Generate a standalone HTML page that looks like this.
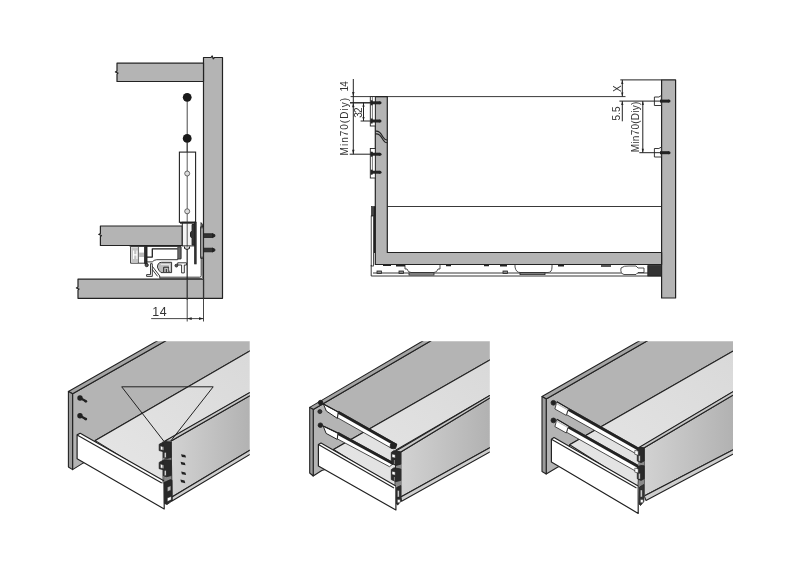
<!DOCTYPE html>
<html><head><meta charset="utf-8">
<style>
html,body{margin:0;padding:0;background:#fff;}
body{width:799px;height:578px;overflow:hidden;font-family:"Liberation Sans",sans-serif;}
svg{display:block;will-change:transform;}
text{font-family:"Liberation Sans",sans-serif;fill:#333;}
</style></head><body>
<svg width="799" height="578" viewBox="0 0 799 578">
<rect width="799" height="578" fill="#fff"/>
<defs>
<clipPath id="c1"><rect x="0" y="341.2" width="249.7" height="240"/></clipPath>
<clipPath id="c2"><rect x="280" y="341.2" width="209.8" height="240"/></clipPath>
<clipPath id="c3"><rect x="520" y="341.2" width="213" height="240"/></clipPath>
<linearGradient id="gside" x1="0" y1="0" x2="1" y2="0"><stop offset="0" stop-color="#d2d2d2"/><stop offset="1" stop-color="#adadad"/></linearGradient>
<linearGradient id="gbot" x1="0" y1="1" x2="1" y2="0"><stop offset="0" stop-color="#e6e6e6"/><stop offset="1" stop-color="#d8d8d8"/></linearGradient>
</defs>

<!-- ============ TOP LEFT SECTION ============ -->
<g id="tl" stroke="#222" stroke-width="1.2" stroke-linejoin="round">
<!-- side panel -->
<path d="M203.5 57.5 H211 l1.2 -1.6 l1 3 l1.2 -1.4 H222.5 V298.3 H203.5 Z" fill="#b4b4b4"/>
<!-- floor -->
<path d="M203.5 279.1 H78 V287 l-1.6 1 l2.6 1 l-1 1.2 V298.3 H203.5 Z" fill="#b4b4b4"/>
<!-- top shelf -->
<path d="M203.5 63.2 H117 V71 l-1.6 1 l2.6 1 l-1 1.2 V81.5 H203.5 Z" fill="#b4b4b4"/>
<!-- drawer bottom board -->
<path d="M182.3 226 H100.4 V233.5 l-1.6 1 l2.6 1 l-1 1.2 V245.5 H182.3 Z" fill="#b4b4b4"/>
</g>
<!-- centre line & dimension -->
<g stroke="#333" stroke-width="0.9" fill="none">
<line x1="187.2" y1="97" x2="187.2" y2="321.5"/>
<line x1="203.5" y1="279" x2="203.5" y2="321.5"/>
<line x1="151.2" y1="318.6" x2="203.5" y2="318.6"/>
</g>
<path d="M187.2 318.6 l4.5 -1.3 v2.6 Z M203.5 318.6 l-4.5 -1.3 v2.6 Z" fill="#222"/>
<text x="152.3" y="316.4" font-size="12.4" textLength="14.4" lengthAdjust="spacing">14</text>
<!-- balls -->
<circle cx="187.2" cy="97.3" r="4.4" fill="#1a1a1a"/>
<circle cx="187.2" cy="138.4" r="4.4" fill="#1a1a1a"/>
<!-- drawer side rect -->
<rect x="179.4" y="152.1" width="16.2" height="70.2" fill="#fff" stroke="#222" stroke-width="1.1"/>
<line x1="187.2" y1="142" x2="187.2" y2="300" stroke="#333" stroke-width="0.8"/>
<circle cx="187.2" cy="173.5" r="2.5" fill="#ddd" stroke="#333" stroke-width="0.7"/>
<circle cx="187.2" cy="211.3" r="2.5" fill="#ddd" stroke="#333" stroke-width="0.7"/>
<!-- block under side -->
<g stroke="#222" stroke-width="1" fill="#fff">
<rect x="182.3" y="222.3" width="12.4" height="23.6" fill="#f4f4f4"/>
<line x1="180" y1="222.8" x2="195.6" y2="222.8" stroke-width="1.8"/>
<line x1="187.2" y1="222" x2="187.2" y2="246" stroke="#333" stroke-width="0.8"/>
<path d="M194.7 224.5 h-2.6 v6 l-1.6 2 v4 l1.6 2 v6.5 h2.6 Z" fill="#333"/>
<rect x="194.7" y="222.3" width="1.4" height="41.5" fill="#444"/>
<path d="M184.5 246.5 v2 q2.5 2 5 0 v-2" fill="#ccc"/>
</g>
<!-- bracket plate + screws -->
<g stroke="#222" stroke-width="0.9">
<path d="M201 222.6 L202.6 224.5 V258 L201 258.3 Z" fill="#888"/>
<rect x="200.7" y="227" width="2.6" height="31" fill="#8c8c8c"/>
<path d="M202 229 V256" stroke="#ddd" stroke-width="0.6" fill="none"/>
<rect x="203.5" y="233.8" width="9" height="3.6" fill="#333"/>
<rect x="203.5" y="248.2" width="9" height="3.6" fill="#333"/>
<path d="M212.5 233.6 l2.4 1.2 v1.6 l-2.4 1.2 Z M212.5 248 l2.4 1.2 v1.6 l-2.4 1.2 Z" fill="#222"/>
<path d="M201.2 258 V275.7 q0 1.5 -1.5 1.5 H159.7" fill="none"/>
<path d="M202.6 258 V277 q0 1.5 -1.5 1.5 H159.7 V277.2" fill="none" stroke-width="0.6"/>
</g>
<!-- mechanism under board -->
<g stroke="#222" stroke-width="0.9" fill="#fff" stroke-linejoin="round">
<line x1="129.5" y1="245.8" x2="181" y2="245.8" stroke-width="1.6"/>
<rect x="130.6" y="246.4" width="14.2" height="16.8" fill="#fff"/>
<rect x="131.4" y="247.4" width="6.4" height="14.6" fill="#c4c4c4" stroke="none"/>
<path d="M133.6 250.6 v8.4 M137 250.6 v8.4 M133.6 254.8 h3.4" fill="none" stroke="#fff" stroke-width="1.2"/>
<rect x="139.2" y="252.6" width="5" height="4.4" fill="#bbb" stroke="none"/>
<line x1="138.4" y1="247" x2="138.4" y2="263" stroke-width="0.7"/>
<rect x="144.8" y="246.4" width="2.2" height="17.6" fill="#333"/>
<path d="M147 246.4 H181 V258.8 H177.7 V259.7 H156.7 Q153.8 259.9 152.3 261.9 H147 Z" fill="#fff"/>
<path d="M147 257.1 H152.3 V248.8 H177.7" fill="none" stroke-width="1.3"/>
<rect x="177.7" y="247.2" width="3.1" height="11.6" fill="#666" stroke-width="0.6"/>
<circle cx="146.7" cy="265.1" r="1.6" fill="#555"/>
<circle cx="176.4" cy="265.6" r="1.4" fill="#555"/>
<path d="M146.6 276.4 V274.6 H150.5 V263.7 H152.3 V276.4 Z" fill="#fff"/>
<path d="M152.3 266.3 L159.7 275.9 V277.4 M152.3 269.5 L157.6 276.4" fill="none"/>
<path d="M157.4 267.2 Q157.6 262.3 161.6 262.3 H171.6 V272.6 H161 Q158.4 270.5 157.4 267.2 Z" fill="#bdbdbd"/>
<path d="M163.7 272 V267.2 H168.9 V272 M166.3 269 V272" fill="none" stroke-width="1"/>
<path d="M160.8 264.6 H169.6 V270.6" fill="none" stroke="#eee" stroke-width="0.9"/>
<path d="M177.7 262.8 H186.5 V265 H184.3 V272.9 H181.6 V265 H177.7 Z" fill="#fff"/>
</g>

<!-- ============ TOP RIGHT SECTION ============ -->
<g stroke="#222" stroke-width="1.2" stroke-linejoin="round">
<!-- back panel -->
<rect x="661.6" y="79.9" width="14" height="218.1" fill="#b4b4b4"/>
<!-- front panel upper -->
<path d="M375.3 96.6 H387.3 V252.5 H661.6 V264.5 H375.3 Z" fill="#b4b4b4"/>
<path d="M375.3 131.2 c4.5 -1 6 3 7.5 5.5 c1.5 2.5 3 3.3 4.5 3.3 M375.3 134 c4.5 -1 6 3 7.5 5.5 c1.5 2.5 3 3.3 4.5 3.3" fill="none" stroke-width="1.1"/>
</g>
<g stroke="#222" stroke-width="0.9" fill="none">
<line x1="350.6" y1="96.6" x2="625.5" y2="96.6"/>
<path d="M387.3 206.5 H661.6"/>
<!-- left small piece -->
<rect x="371.4" y="206.5" width="3.9" height="9.5" fill="#444" stroke-width="0.6"/>
<rect x="371.2" y="216" width="2.3" height="50" fill="#fff" stroke-width="0.8"/>
<line x1="374.7" y1="206.5" x2="374.7" y2="253" stroke-width="1.5"/>
<!-- runner -->
<path d="M371.2 265 V276 H661.6" />
<line x1="373" y1="273" x2="648" y2="273"/>
</g>
<!-- runner details -->
<g stroke="#222" stroke-width="0.8" fill="#fff">
<path d="M405 265 v4 h2 q1 3.5 4 3.5 h23 q3 0 4 -3.5 h2 v-4" fill="#fff"/>
<rect x="409" y="273" width="25" height="2" fill="#bbb"/>
<path d="M515 265 v2 q1 5.5 5 5.5 h28 q4 0 4 -5.5 v-2" fill="#fff"/>
<rect x="520" y="273" width="25" height="1.6" fill="#bbb"/>
<rect x="377" y="271" width="4.5" height="2.4" fill="#888"/>
<rect x="399" y="271" width="4.5" height="2.4" fill="#888"/>
<rect x="503" y="271" width="4.5" height="2.4" fill="#888"/>
<path d="M383 265.3 h8 M396 265.6 h9 M446 265.5 h5 M484 265.5 h5 M500 265.8 h7 M558 265.6 h6 M601 266 h10" stroke-width="1.6"/>
<path d="M621 268 q3 -2.5 8 -2 h7 l2 2 h6 v4.5 h-6 l-2 2 h-12 q-4 -1 -3 -6.5 Z" fill="#fff"/>
<rect x="647.8" y="265.6" width="13.6" height="10.4" fill="#333"/>
</g>
<!-- left brackets + screws -->
<g stroke="#222" stroke-width="0.9">
<rect x="370.3" y="96.6" width="5" height="29.4" fill="#fff"/>
<rect x="370.3" y="148.5" width="5" height="29.5" fill="#fff"/>
<path d="M372.4 96.6 V122 M372.4 152 V174" fill="none" stroke-width="0.6"/>
</g>
<g fill="#222">
<rect x="371" y="101.3" width="9" height="3"/><rect x="371" y="119.5" width="9" height="3"/>
<rect x="371" y="152.7" width="9" height="3"/><rect x="371" y="170.7" width="9" height="3"/>
<circle cx="380" cy="102.8" r="1.5"/><circle cx="380" cy="121" r="1.5"/><circle cx="380" cy="154.2" r="1.5"/><circle cx="380" cy="172.2" r="1.5"/>
<rect x="370.6" y="100.3" width="2" height="5"/><rect x="370.6" y="118.5" width="2" height="5"/>
<rect x="370.6" y="151.7" width="2" height="5"/><rect x="370.6" y="169.7" width="2" height="5"/>
</g>
<!-- left dims -->
<g stroke="#222" stroke-width="1" fill="none">
<line x1="353.3" y1="79" x2="353.3" y2="96.6"/>
<line x1="353.3" y1="96" x2="353.3" y2="154.2"/>
<line x1="350" y1="102.8" x2="372" y2="102.8" stroke-width="1.4"/>
<line x1="349.7" y1="154.2" x2="371.6" y2="154.2"/>
<line x1="363.5" y1="102.8" x2="363.5" y2="121"/>
<line x1="360.6" y1="121" x2="372" y2="121"/>
</g>
<path d="M353.3 96.6 l-1.2 -4.5 h2.4 Z M353.3 102.8 l-1.2 4.5 h2.4 Z M353.3 154.2 l-1.2 -4.5 h2.4 Z M363.5 102.8 l-1.1 4 h2.2 Z M363.5 121 l-1.1 -4 h2.2 Z" fill="#222"/>
<text transform="translate(348.4 91.4) rotate(-90)" font-size="10" textLength="10.2" lengthAdjust="spacing">14</text>
<text transform="translate(348.3 155.4) rotate(-90)" font-size="10" textLength="57.4" lengthAdjust="spacing">Min70(Diy)</text>
<text transform="translate(362.3 117.7) rotate(-90)" font-size="10" textLength="10.2" lengthAdjust="spacing">32</text>
<!-- right clips & screws -->
<g stroke="#222" stroke-width="0.9">
<path d="M654.4 97 h4.5 l2.5 -1.5 v10 h-7 Z" fill="#fff"/>
<path d="M654.4 148.5 h4.5 l2.5 -1.5 v10 h-7 Z" fill="#fff"/>
</g>
<g fill="#222">
<rect x="660" y="99.6" width="9" height="3"/><circle cx="669" cy="101.1" r="1.5"/>
<rect x="660" y="151.2" width="9" height="3"/><circle cx="669" cy="152.7" r="1.5"/>
</g>
<!-- right dims -->
<g stroke="#222" stroke-width="1" fill="none">
<line x1="620.3" y1="79.9" x2="661.6" y2="79.9"/>
<line x1="622.3" y1="79.9" x2="622.3" y2="96.6"/><line x1="622.3" y1="101.1" x2="622.3" y2="121.3"/>
<line x1="619.4" y1="101.1" x2="661" y2="101.1"/>
<line x1="642.8" y1="101.1" x2="642.8" y2="152.7"/>
<line x1="639.3" y1="152.7" x2="661" y2="152.7"/>
</g>
<path d="M622.3 79.9 l-1.1 4 h2.2 Z M622.3 96.6 l-1.1 -4 h2.2 Z M622.3 101.1 l-1.1 4 h2.2 Z M642.8 101.1 l-1.1 4 h2.2 Z M642.8 152.7 l-1.1 -4 h2.2 Z" fill="#222"/>
<text transform="translate(620.5 92) rotate(-90)" font-size="10">X</text>
<text transform="translate(620.3 120.5) rotate(-90)" font-size="10" textLength="14" lengthAdjust="spacing">5.5</text>
<text transform="translate(639.3 152.2) rotate(-90)" font-size="10" textLength="50.6" lengthAdjust="spacing">Min70(Diy)</text>

<!-- ============ BOTTOM VIEW 1 ============ -->
<g clip-path="url(#c1)" stroke="#222" stroke-width="1.1" stroke-linejoin="round">
<!-- panel face -->
<path d="M72.6 393.8 L184.7 330 H262 V343.8 L95.3 440.6 L90 460 L83.4 462.9 L72.6 469.6 Z" fill="#b4b4b4"/>
<!-- top edge -->
<path d="M68.4 391.4 L176.4 330 H184.7 L72.6 393.8 Z" fill="#a4a4a4"/>
<!-- left edge -->
<path d="M68.4 391.4 L72.6 393.8 V469.6 L68.4 467 Z" fill="#9c9c9c"/>
<!-- drawer bottom -->
<path d="M95.3 440.6 L262 343.8 V385.6 L166 441 L164 483 Z" fill="url(#gbot)"/>
<!-- right side face -->
<path d="M171.1 441 L262 388.7 V443 L172 497 Z" fill="url(#gside)"/>
<path d="M164.5 441.2 L262 385.6 V388.7 L171.1 441 Z" fill="#c6c6c6"/>
<path d="M172 497 L262 443 V447.3 L172 501 Z" fill="#cecece"/>
<!-- white side -->
<path d="M77.1 434.9 L80.2 433.3 L164.2 481 V509 L77.1 458.7 Z" fill="#fff" stroke-width="1.2"/>
<path d="M77.1 434.9 L161.8 483 " fill="none"/>
<!-- triangle -->
<path d="M121.7 386.8 H213.2 L167.2 445.5 Z" fill="none" stroke-width="1"/>
</g>
<!-- hardware view1 -->
<g stroke="#222" stroke-width="0.8">
<path d="M164 442 L171.3 441 V501 L166 504 L164.4 503 Z" fill="#8a8a8a" stroke="none"/>
<path d="M159.2 444.3 L164.2 441.7 L171.2 442 V457.5 L166.5 458.6 L163.4 457.6 V451.6 L159.2 450.6 Z" fill="#2a2a2a"/>
<path d="M160.4 446 l3.5 0.8 v3.8 l-3.5 -0.8 Z" fill="#fff" stroke-width="0.5"/>
<rect x="164.3" y="452.4" width="1.8" height="5.2" fill="#e0e0e0" stroke-width="0.4"/>
<path d="M159.2 462.4 L164.2 459.8 L171.2 460.2 V475.6 L166.5 476.7 L163.4 475.7 V469.7 L159.2 468.7 Z" fill="#2a2a2a"/>
<path d="M160.4 464.1 l3.5 0.8 v3.8 l-3.5 -0.8 Z" fill="#fff" stroke-width="0.5"/>
<rect x="164.3" y="470.4" width="1.8" height="5.2" fill="#e0e0e0" stroke-width="0.4"/>
<path d="M164 482.5 L170.5 479.6 L172 480.2 V501 L167 504.6 L164.4 503.4 Z" fill="#2a2a2a"/>
<path d="M167.4 487.2 l3.4 -1.4 v4.4 l-3.4 1.4 Z" fill="#bbb" stroke-width="0.4"/>
<path d="M167.4 498 l3.8 -1.6 v3.4 l-3.8 1.8 Z" fill="#fff" stroke-width="0.4"/>
<path d="M163 441.5 v42" fill="none"/>
</g>
<g fill="#222">
<path d="M181 454.3 l4.2 0.6 l0.9 2.5 l-4.2 -0.5 Z M180.6 461.8 l4.2 0.9 l0.7 2.5 l-4.2 -0.8 Z M181.2 471.6 l4.2 0.9 l0.7 2.5 l-4.2 -0.8 Z M180.4 479.4 l4.2 1.1 l0.7 2.7 l-4.2 -1 Z"/>
<circle cx="80" cy="398" r="2.7"/><path d="M80.6 397 l5.6 3.1 l-1.1 2 l-5.6 -3.1 Z"/><circle cx="85.8" cy="401.3" r="1.4"/>
<circle cx="80" cy="415.8" r="2.7"/><path d="M80.6 414.8 l5.6 3.1 l-1.1 2 l-5.6 -3.1 Z"/><circle cx="85.8" cy="419.1" r="1.4"/>
</g>

<!-- ============ BOTTOM VIEW 2 ============ -->
<g clip-path="url(#c2)" stroke="#222" stroke-width="1.1" stroke-linejoin="round">
<path d="M313.2 409.5 L449.4 330 H502 V353 L333.5 449.5 L330 468 L321.8 470.5 L313.2 476 Z" fill="#b4b4b4"/>
<path d="M309.7 407.4 L441.5 330 H449.4 L313.2 409.5 Z" fill="#a4a4a4"/>
<path d="M309.7 407.4 L313.2 409.5 V476 L309.7 473 Z" fill="#9c9c9c"/>
<path d="M333.5 449.5 L502 353 V388.3 L396 450 L395 488 Z" fill="url(#gbot)"/>
<path d="M400.8 452 L502 390.6 V441 L400.8 497 Z" fill="url(#gside)"/>
<path d="M395 451.5 L502 388.3 V390.6 L400.8 452 Z" fill="#c6c6c6"/>
<path d="M400.8 497 L502 441 V445.2 L401.6 501.3 Z" fill="#cecece"/>
<path d="M318.4 444.6 L321 443 L395.9 486 V510 L318.4 465.9 Z" fill="#fff" stroke-width="1.2"/>
<path d="M318.4 444.6 L394 488" fill="none"/>
</g>
<g stroke="#222" stroke-width="0.8" stroke-linejoin="round">
<!-- rods -->
<path d="M338.2 411.2 L397 444.5 L392 448.6 L337.4 417.7 Z" fill="#fff"/>
<path d="M338.2 412.3 L396.4 445.3" fill="none" stroke-width="2.8"/>
<path d="M323.4 404 L338.2 412 L337.4 418.4 L326.3 411 Z" fill="#fff" stroke-width="1"/>
<path d="M323.4 404 L338.2 412" fill="none" stroke-width="1.2"/>
<path d="M338 432.3 L394 463 L389.5 466.7 L337.2 438.8 Z" fill="#fff"/>
<path d="M338 433.4 L393.4 463.8" fill="none" stroke-width="2.8"/>
<path d="M323.2 426 L338 433.1 L337.2 439.4 L326.1 433.4 Z" fill="#fff" stroke-width="1"/>
<path d="M323.2 426 L338 433.1" fill="none" stroke-width="1.2"/>
<circle cx="320.6" cy="402.6" r="2.3" fill="#222"/>
<circle cx="320.4" cy="425.2" r="2.3" fill="#222"/>
<circle cx="319.9" cy="411.6" r="2" fill="#333"/>
<path d="M390.5 444 q3 -2.5 6.3 0.5 l-1.2 4 q-2.5 1 -5.5 -1 Z" fill="#222"/>
<!-- hardware -->
<path d="M395.8 451 L401 452 V500.5 L397.5 505 L396 504 Z" fill="#8a8a8a" stroke="none"/>
<path d="M391.3 452.4 L394 450.6 L400.8 452 V464.2 L396 465.4 L391.3 463.4 Z" fill="#2a2a2a"/>
<path d="M392 454 l3.2 0.7 v3.4 l-3.2 -0.8 Z" fill="#fff" stroke-width="0.5"/>
<path d="M394.4 460 v4" stroke="#999" stroke-width="0.8"/>
<path d="M391.3 469.6 L394 467.8 L400.8 469 V480.4 L396 481.6 L391.3 479.6 Z" fill="#2a2a2a"/>
<path d="M392 471.2 l3.2 0.7 v3.4 l-3.2 -0.8 Z" fill="#fff" stroke-width="0.5"/>
<path d="M394.4 477 v3.6" stroke="#999" stroke-width="0.8"/>
<path d="M396.6 487.5 L400.8 485.5 V501 L397.8 505 L396.4 504 Z" fill="#2a2a2a"/>
<rect x="397.4" y="490.5" width="1.8" height="6.5" fill="#ddd" stroke-width="0.4"/>
<rect x="397.4" y="499.5" width="2.8" height="3.2" fill="#fff" stroke-width="0.4"/>
</g>

<!-- ============ BOTTOM VIEW 3 ============ -->
<g clip-path="url(#c3)" stroke="#222" stroke-width="1.1" stroke-linejoin="round">
<path d="M546.2 398.9 L666.1 330 H746 V343.6 L569.6 444.7 L565 464 L557.5 467.2 L546.2 474 Z" fill="#b4b4b4"/>
<path d="M542 396.5 L658.4 330 H666.1 L546.2 398.9 Z" fill="#a4a4a4"/>
<path d="M542 396.5 L546.2 398.9 V474 L542 471.5 Z" fill="#9c9c9c"/>
<path d="M569.6 444.7 L746 343.6 V384 L640 447.5 L638 488 Z" fill="url(#gbot)"/>
<path d="M644.2 447.7 L746 387.5 V443.1 L644.2 496 Z" fill="url(#gside)"/>
<path d="M638.5 447.8 L746 384 V387.5 L644.2 447.7 Z" fill="#c6c6c6"/>
<path d="M644.2 496 L746 443.1 V447.2 L646 500.4 Z" fill="#cecece"/>
<path d="M551.4 439.2 L554 437.6 L638.2 486 V513.4 L551.4 462 Z" fill="#fff" stroke-width="1.2"/>
<path d="M551.4 439.2 L636.5 488" fill="none"/>
</g>
<g stroke="#222" stroke-width="0.8" stroke-linejoin="round">
<path d="M568.4 408.3 L640 448.8 L637 454.3 L566.5 414.6 Z" fill="#fff"/>
<path d="M568.4 409.5 L639.4 449.7" fill="none" stroke-width="2.8"/>
<path d="M556.9 401.7 L568.4 408.4 L566.3 415.4 L554.9 409 Z" fill="#fff"/>
<path d="M556.6 403.4 L568 410" fill="none" stroke="#bbb" stroke-width="1.1"/>
<path d="M556.9 401.7 L568.4 408.4" fill="none" stroke-width="1.2"/>
<path d="M568.4 425.9 L640 466.4 L637 471.9 L566.5 432.2 Z" fill="#fff"/>
<path d="M568.4 427.1 L639.4 467.3" fill="none" stroke-width="2.8"/>
<path d="M556.9 419.3 L568.4 426 L566.3 433 L554.9 426.6 Z" fill="#fff"/>
<path d="M556.6 421 L568 427.6" fill="none" stroke="#bbb" stroke-width="1.1"/>
<path d="M556.9 419.3 L568.4 426" fill="none" stroke-width="1.2"/>
<circle cx="553.4" cy="402.8" r="2.4" fill="#222"/>
<circle cx="553.4" cy="420.4" r="2.4" fill="#222"/>
<path d="M638 448.5 L644.4 447.8 V500 L640.5 505.5 L639 504 Z" fill="#8a8a8a" stroke="none"/>
<path d="M637.3 449.2 L640.5 447.6 L644.2 448 V461 L641 462.6 L637.3 461 Z" fill="#2a2a2a"/>
<path d="M634.8 450.3 l3.5 0.8 v4.2 l-3.5 -1 Z" fill="#fff" stroke-width="0.6"/>
<rect x="638.5" y="455.6" width="1.7" height="5.6" fill="#ddd" stroke-width="0.4"/>
<path d="M637.3 467 L640.5 465.4 L644.2 465.8 V478.8 L641 480.4 L637.3 478.8 Z" fill="#2a2a2a"/>
<path d="M634.8 468.1 l3.5 0.8 v4.2 l-3.5 -1 Z" fill="#fff" stroke-width="0.6"/>
<rect x="638.5" y="473.4" width="1.7" height="5.6" fill="#ddd" stroke-width="0.4"/>
<path d="M639.6 487 L643.8 484.5 V501.5 L640.5 505.5 L639.2 504 Z" fill="#333"/>
<rect x="640.4" y="490" width="1.8" height="7" fill="#ddd" stroke-width="0.4"/>
<rect x="640.4" y="499.5" width="2.8" height="3.2" fill="#fff" stroke-width="0.4"/>
</g>
</svg>
</body></html>
